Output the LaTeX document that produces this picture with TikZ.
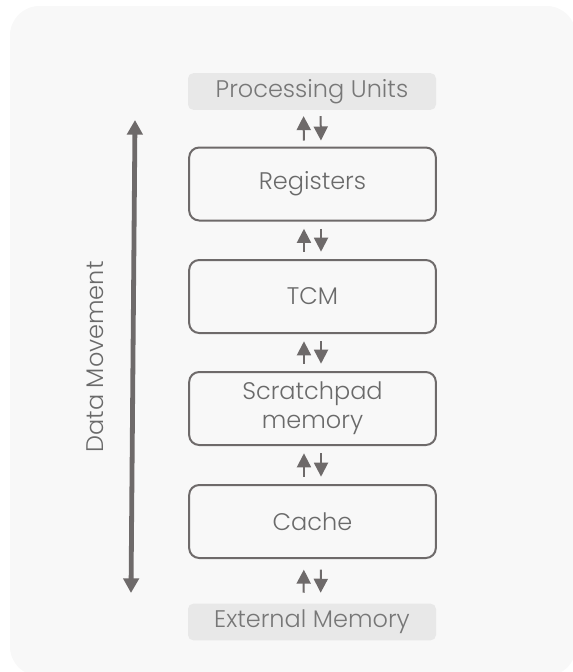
\documentclass[tikz,border=0pt]{standalone}
\usepackage{fontspec}
\setmainfont{Poppins Light}
\usetikzlibrary{arrows.meta}
\definecolor{panelbg}{HTML}{F8F8F8}
\definecolor{edgegray}{HTML}{6E6A6A}
\definecolor{textgray}{HTML}{6A6A6A}
\definecolor{labelbg}{HTML}{E8E8E8}
\definecolor{labeltext}{HTML}{777777}
\begin{document}
\begin{tikzpicture}[x=0.75pt,y=-0.75pt,
  level/.style={draw=edgegray,line width=1.5pt,rounded corners=7.5pt,
    minimum width=185pt,minimum height=54.75pt,text=textgray,
    font=\fontsize{18}{21.75}\selectfont,align=center,inner sep=0pt},
  endlabel/.style={fill=labelbg,rounded corners=4pt,text=labeltext,
    minimum width=186pt,minimum height=27.5pt,inner sep=0pt,
    font=\fontsize{18}{22}\selectfont},
  flow/.style={draw=edgegray,line width=1.5pt,
    -{Triangle[width=10.5pt,length=10.5pt]}},
  bigflow/.style={draw=edgegray,line width=3.6pt,
    {Triangle[width=11.5pt,length=11pt]}-{Triangle[width=11.5pt,length=11pt]}},
  gap/.style={shorten <=#1,shorten >=#1}
]
\useasboundingbox (0,0) rectangle (572,672);
% background panel
\fill[panelbg,rounded corners=22pt] (10,6) rectangle (576,676);

% hierarchy levels
\node[endlabel] (pu)  at (312,91.5)  {Processing Units};
\node[level]    (reg) at (312.5,184) {Registers};
\node[level]    (tcm) at (312.5,296.5) {TCM};
\node[level]    (spm) at (312.5,408.5) {Scratchpad\\memory};
\node[level]    (cch) at (312.5,521.5) {Cache};
\node[endlabel] (ext) at (312,622)   {External Memory};

% paired transfer arrows between neighbouring levels
\foreach \a/\b/\g in {pu/reg/4.5pt, reg/tcm/5.5pt, tcm/spm/5.5pt, spm/cch/5.5pt, cch/ext/8pt}{
  \draw[flow,gap=\g] ([xshift=-6.4pt]\b.north) -- ([xshift=-6.4pt]\a.south);
  \draw[flow,gap=\g] ([xshift=6.4pt]\a.south) -- ([xshift=6.4pt]\b.north);
}

% overall data movement axis
\coordinate (top) at (135,120);
\coordinate (bot) at (131,593);
\draw[bigflow] (top) -- (bot);
\node[rotate=90,text=textgray,font=\fontsize{18}{22}\selectfont] (dm) at (95,357) {Data Movement};
\end{tikzpicture}
\end{document}
